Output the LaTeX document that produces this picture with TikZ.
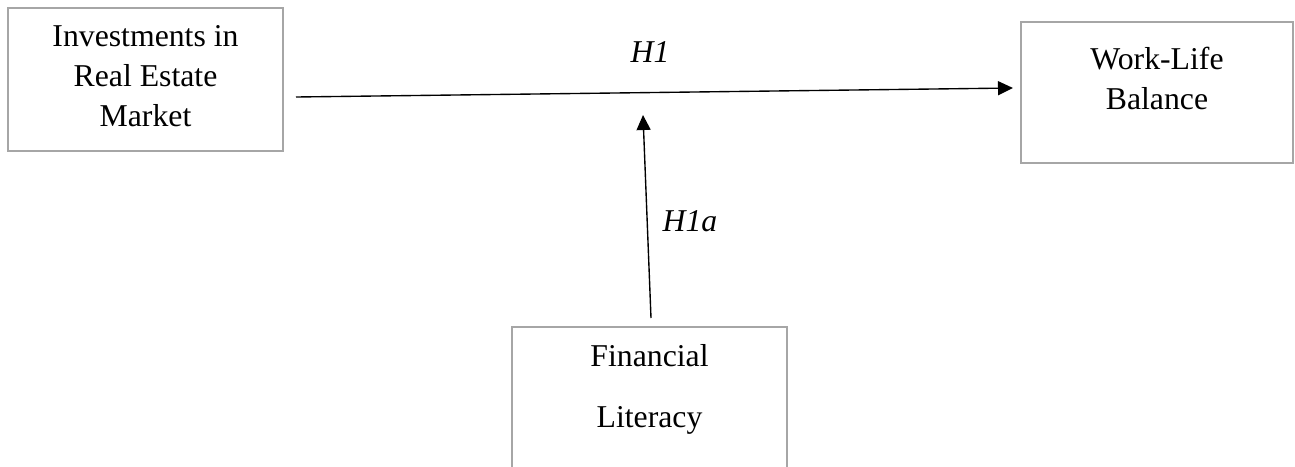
\documentclass[tikz,border=0pt]{standalone}
\usepackage{fontspec}
\setmainfont{Liberation Serif}
\usetikzlibrary{positioning,arrows.meta}
\definecolor{boxgray}{HTML}{A6A6A6}

\tikzset{
  varbox/.style={draw=boxgray, line width=1.1pt, minimum width=110pt, minimum height=57.2pt, inner sep=0pt},
  vartext/.style={align=center, inner sep=0pt, font=\fontsize{12.7}{16}\selectfont},
  hyp/.style={font=\fontsize{12.7}{14}\selectfont\itshape, inner sep=0pt},
  link/.style={-{Triangle[length=6pt,width=5.6pt]}, line width=0.55pt}
}

\begin{document}
\begin{tikzpicture}[x=0.4pt, y=-0.4pt]
\useasboundingbox (0,0) rectangle (1295,467);
\clip (0,0) rectangle (1295,467);

\node (ire) at (145.5,79.5) [varbox] {};
\node (wlb) at (1157,92.5) [varbox, minimum width=108.8pt, minimum height=56.4pt] {};
\node (fl) at (649.5,413.5) [varbox, minimum height=69.2pt] {};

\node (iretext) [vartext, below=7.4pt of ire.north] {Investments in\\Real Estate\\Market};
\node (wlbtext) [vartext, below=10.6pt of wlb.north] {Work-Life\\Balance};
\node (fltext) [vartext, below=7.4pt of fl.north, font=\fontsize{12.7}{24.4}\selectfont] {Financial\\Literacy};

\coordinate (h1from) at (296,97);
\coordinate (h1to) at (1013,88);
\coordinate (h1afrom) at (651,318);
\coordinate (h1ato) at (643,115);

\draw [link] (h1from) -- (h1to);
\draw [link] (h1afrom) -- (h1ato);

\node (h1) at (650,52) [hyp] {H1};
\node (h1a) at (690,221) [hyp] {H1a};
\end{tikzpicture}
\end{document}
